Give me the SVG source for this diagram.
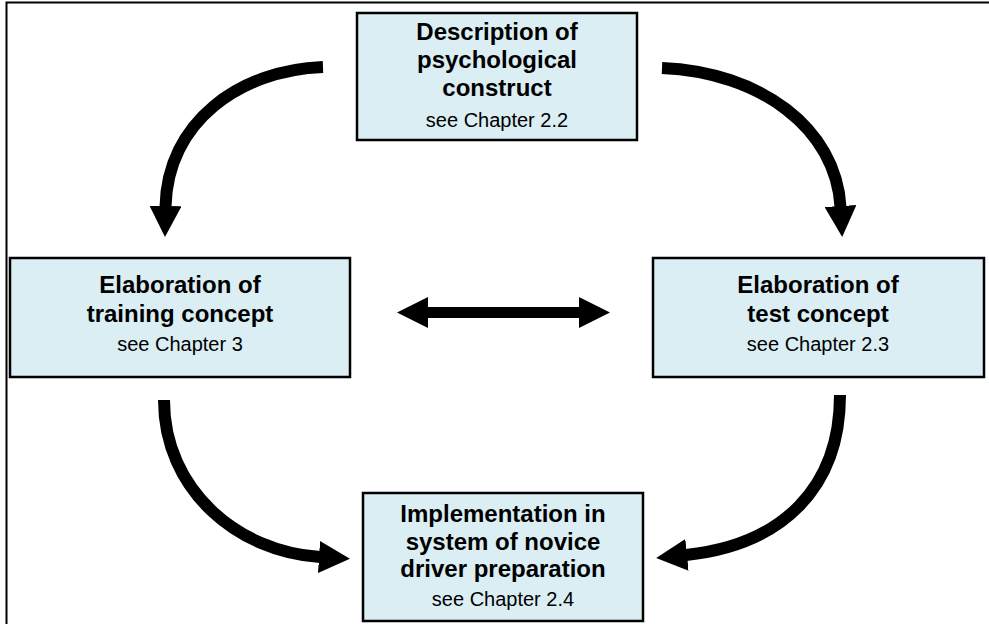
<svg xmlns="http://www.w3.org/2000/svg" width="989" height="624" viewBox="0 0 989 624">
  <style>
    .box { fill: #DAEEF3; stroke: #000; stroke-width: 2.5; }
    .title { font-family: "Liberation Sans", Arial, sans-serif; font-size: 24px; font-weight: bold; fill: #000; text-anchor: middle; }
    .sub { font-family: "Liberation Sans", Arial, sans-serif; font-size: 20px; fill: #000; text-anchor: middle; }
    .flow { fill: none; stroke: #000; stroke-width: 12; marker-end: url(#head); }
  </style>
  <defs>
    <marker id="head" markerUnits="userSpaceOnUse" viewBox="0 0 32 32" markerWidth="32" markerHeight="32" refX="1" refY="16" orient="auto">
      <path d="M0,0 L31,16 L0,32 Z" fill="#000"/>
    </marker>
  </defs>

  <rect width="989" height="624" fill="#fff"/>
  <!-- outer frame (left and top edges) -->
  <path d="M6.5,624 V2.5 H989" fill="none" stroke="#000" stroke-width="2"/>

  <g id="construct">
    <rect class="box" x="357" y="13" width="280" height="127"/>
    <text class="title" x="497" y="40">Description of</text>
    <text class="title" x="497" y="68">psychological</text>
    <text class="title" x="497" y="96">construct</text>
    <text class="sub" x="497" y="127">see Chapter 2.2</text>
  </g>

  <g id="training">
    <rect class="box" x="10" y="258" width="340" height="119"/>
    <text class="title" x="180" y="293">Elaboration of</text>
    <text class="title" x="180" y="322">training concept</text>
    <text class="sub" x="180" y="351">see Chapter 3</text>
  </g>

  <g id="test">
    <rect class="box" x="653" y="258" width="331" height="119"/>
    <text class="title" x="818" y="293">Elaboration of</text>
    <text class="title" x="818" y="322">test concept</text>
    <text class="sub" x="818" y="351">see Chapter 2.3</text>
  </g>

  <g id="implementation">
    <rect class="box" x="363" y="493" width="280" height="128"/>
    <text class="title" x="503" y="522">Implementation in</text>
    <text class="title" x="503" y="550">system of novice</text>
    <text class="title" x="503" y="577">driver preparation</text>
    <text class="sub" x="503" y="606">see Chapter 2.4</text>
  </g>

  <g id="connectors">
    <path class="flow" d="M323,67 C240,70 167,122 165.5,207"/>
    <path class="flow" d="M662,68 C760,72 836,128 840.5,207"/>
    <path class="flow" d="M164,400 C164,490 238,552 320,557"/>
    <path class="flow" d="M840,395 C840,488 782,545 686,555"/>
    <!-- two-way link between the concept boxes -->
    <path d="M397,312.5 L428,297 L428,307 L579,307 L579,297 L610,312.5 L579,328 L579,318 L428,318 L428,328 Z" fill="#000"/>
  </g>
</svg>
